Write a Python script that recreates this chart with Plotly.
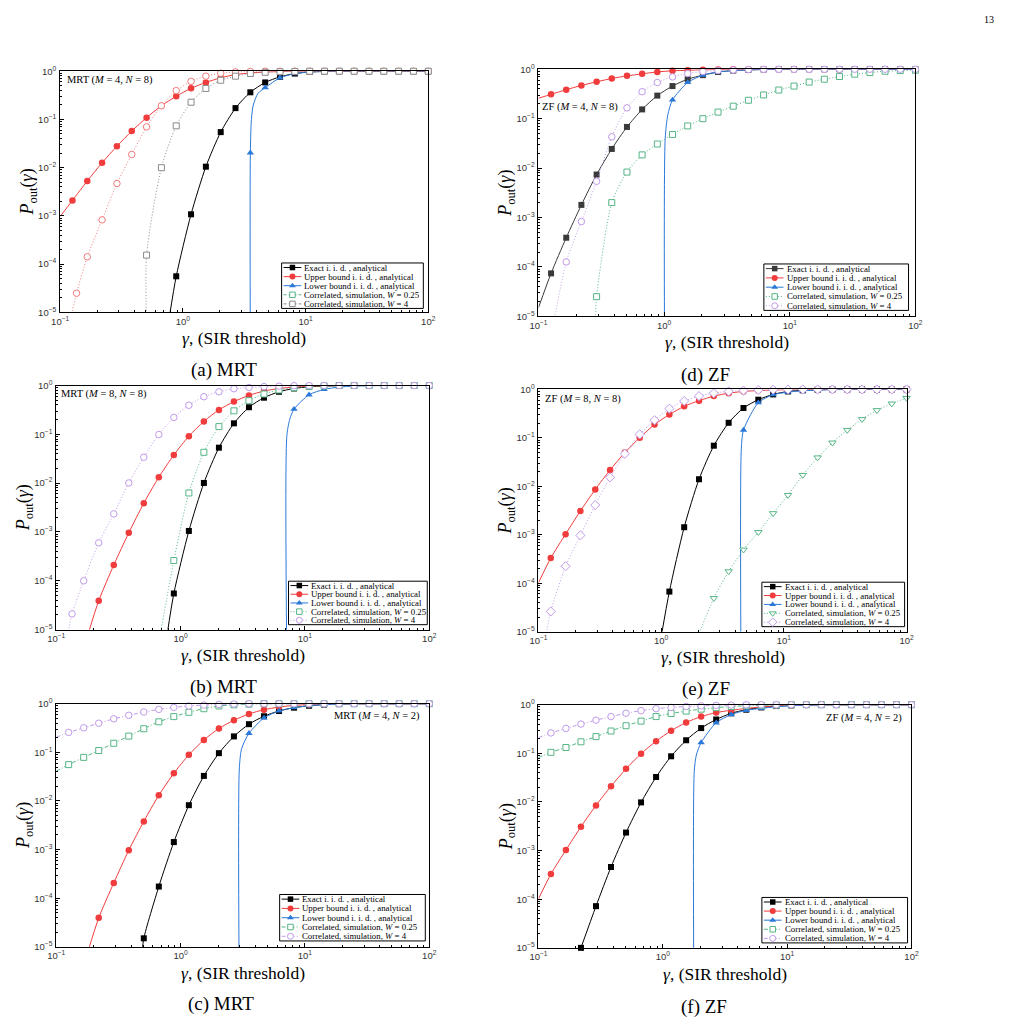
import plotly.graph_objects as go

# ---------------- data ----------------
GAMMA = [0.1259, 0.1663, 0.2196, 0.2901, 0.3831, 0.5060, 0.6683, 0.8827, 1.166, 1.540,
         2.034, 2.686, 3.548, 4.686, 6.190, 8.176, 10.80, 14.26, 18.84, 24.88,
         32.87, 43.41, 57.34, 75.74, 100.0]
N = None

# (a) MRT (M=4, N=8)
A_EXACT = [N]*7 + [5.6e-5, 1.08e-3, 0.0105, 0.0547, 0.172, 0.366, 0.586, 0.766, 0.895, 0.965, 0.99] + [1.0]*7
A_EXACT_LX, A_EXACT_LY = [0.776], [8e-6]
A_UPPER = [2.1e-3, 5.3e-3, 0.0127, 0.0278, 0.0574, 0.109, 0.192, 0.303, 0.442, 0.586, 0.731, 0.855, 0.92, 0.965, 0.985] + [1.0]*10
A_UPPER_LX, A_UPPER_LY = [0.1], [9.7e-4]
A_LOWER = [N]*12 + [0.0203, 0.456, 0.73, 0.895, 0.965, 0.99] + [1.0]*7
A_LOWER_LX, A_LOWER_LY = [3.54, 3.62, 3.75, 4.1], [8e-6, 0.1, 0.2, 0.35]
A_SIM1 = [N] + [1.42e-4, 8.3e-4, 4.7e-3, 0.0188, 0.0703, 0.192, 0.396, 0.615, 0.79, 0.91, 0.97, 0.99] + [1.0]*12
A_SIM1_MX, A_SIM1_MY = [0.136], [2.5e-5]
A_SIM1_LX, A_SIM1_LY = [0.1225], [8e-6]
A_SIM2 = [N]*5 + [1.54e-4, 0.01, 0.0737, 0.228, 0.44, 0.65, 0.79, 0.9, 0.95, 0.975, 0.99] + [1.0]*9
A_SIM2_LX, A_SIM2_LY = [0.505], [8e-6]

# (b) MRT (M=8, N=8)
B_EXACT = [N]*7 + [5.5e-5, 1.05e-3, 0.0101, 0.0533, 0.168, 0.359, 0.563, 0.745, 0.87, 0.94, 0.975, 0.99] + [1.0]*6
B_EXACT_LX, B_EXACT_LY = [0.78], [8e-6]
B_UPPER = [N]*2 + [3.9e-5, 2.1e-4, 9.6e-4, 3.9e-3, 0.0132, 0.0379, 0.0917, 0.184, 0.317, 0.468, 0.628, 0.77, 0.87, 0.93, 0.97, 0.99] + [1.0]*7
B_UPPER_LX, B_UPPER_LY = [0.18], [8e-6]
B_LOWER = [N]*15 + [0.327, 0.647, 0.83, 0.93, 0.97, 0.99] + [1.0]*4
B_LOWER_LX, B_LOWER_LY = [7.12, 7.16, 7.56], [8e-6, 0.095, 0.205]
B_SIM1 = [N]*7 + [2.6e-4, 6.3e-3, 0.0429, 0.144, 0.303, 0.49, 0.67, 0.81, 0.9, 0.95, 0.98] + [1.0]*7
B_SIM1_LX, B_SIM1_LY = [0.687], [8e-6]
B_SIM2 = [N] + [1.0e-4, 6e-4, 2.35e-3, 0.0101, 0.034, 0.099, 0.222, 0.394, 0.59, 0.745, 0.86, 0.91, 0.95, 0.97, 0.99] + [1.0]*9
B_SIM2_MX, B_SIM2_MY = [0.134], [2.1e-5]
B_SIM2_LX, B_SIM2_LY = [0.1237], [8e-6]

# (c) MRT (M=4, N=2)
C_EXACT = [N]*5 + [1.5e-5, 1.74e-4, 1.43e-3, 8.2e-3, 0.0328, 0.0964, 0.213, 0.38, 0.553, 0.71, 0.83, 0.91, 0.96, 0.985] + [1.0]*6
C_EXACT_LX, C_EXACT_LY = [0.491], [8e-6]
C_UPPER = [N]*2 + [3.95e-5, 2.06e-4, 9.7e-4, 3.8e-3, 0.0131, 0.0372, 0.089, 0.18, 0.31, 0.458, 0.617, 0.755, 0.855, 0.925, 0.965, 0.985] + [1.0]*7
C_UPPER_LX, C_UPPER_LY = [0.18], [8e-6]
C_LOWER = [N]*12 + [0.246, 0.511, 0.71, 0.83, 0.91, 0.96, 0.985] + [1.0]*6
C_LOWER_LX, C_LOWER_LY = [2.95, 2.97, 3.1], [8e-6, 0.048, 0.12]
C_SIM1 = [0.056, 0.079, 0.109, 0.154, 0.216, 0.306, 0.425, 0.544, 0.667, 0.79, 0.9, 0.95, 0.98] + [1.0]*12
C_SIM1_LX, C_SIM1_LY = [0.1], [0.041]
C_SIM2 = [0.257, 0.32, 0.398, 0.489, 0.578, 0.677, 0.766, 0.84, 0.9, 0.94, 0.97, 0.985] + [1.0]*13
C_SIM2_LX, C_SIM2_LY = [0.1], [0.204]

# (d) ZF (M=4, N=8)
D_EXACT = [7.4e-5, 3.9e-4, 1.8e-3, 7.4e-3, 0.0244, 0.068, 0.154, 0.293, 0.457, 0.63, 0.76, 0.88, 0.94, 0.97, 0.99] + [1.0]*10
D_EXACT_LX, D_EXACT_LY = [0.1], [1.5e-5]
D_UPPER = [0.311, 0.386, 0.471, 0.558, 0.65, 0.735, 0.807, 0.885, 0.93, 0.955, 0.975, 0.99] + [1.0]*13
D_UPPER_LX, D_UPPER_LY = [0.1], [0.259]
D_LOWER = [N]*8 + [0.24, 0.54, 0.76, 0.88, 0.94, 0.97, 0.99] + [1.0]*10
D_LOWER_LX, D_LOWER_LY = [1.006, 1.02, 1.07], [8e-6, 0.04, 0.12]
D_SIM1 = [N]*3 + [2.5e-5, 2e-3, 8.3e-3, 0.0185, 0.0307, 0.0479, 0.0713, 0.1, 0.136, 0.179, 0.236, 0.302, 0.38, 0.457, 0.55, 0.63, 0.713, 0.794, 0.858, 0.912, 0.94, 0.955]
D_SIM1_LX, D_SIM1_LY = [0.283], [8e-6]
D_SIM2 = [N] + [1.26e-4, 8.3e-4, 5.4e-3, 0.043, 0.166, 0.352, 0.54, 0.7, 0.82, 0.9, 0.94, 0.97, 0.985] + [1.0]*11
D_SIM2_LX, D_SIM2_LY = [0.133], [8e-6]

# (e) ZF (M=8, N=8)
E_EXACT = [N]*8 + [6.7e-5, 1.43e-3, 0.014, 0.069, 0.205, 0.415, 0.615, 0.79, 0.91, 0.96, 0.985] + [1.0]*6
E_EXACT_LX, E_EXACT_LY = [1.002], [8e-6]
E_UPPER = [3.3e-4, 1.03e-3, 3.1e-3, 8.6e-3, 0.0217, 0.0498, 0.101, 0.189, 0.303, 0.449, 0.586, 0.73, 0.84, 0.91, 0.95, 0.975, 0.99] + [1.0]*8
E_UPPER_LX, E_UPPER_LY = [0.1], [1.02e-4]
E_LOWER = [N]*13 + [0.145, 0.533, 0.78, 0.88, 0.94, 0.97, 0.99] + [1.0]*5
E_LOWER_LX, E_LOWER_LY = [4.46, 4.5], [8e-6, 0.06]
E_SIM1 = [N]*11 + [4.9e-5, 1.75e-4, 4.9e-4, 1.13e-3, 2.77e-3, 6.6e-3, 0.0171, 0.0393, 0.0797, 0.145, 0.243, 0.372, 0.509, 0.665]
E_SIM1_LX, E_SIM1_LY = [1.995], [8e-6]
E_SIM2 = [2.6e-5, 2.24e-4, 9.7e-4, 4.1e-3, 0.0153, 0.0468, 0.118, 0.232, 0.402, 0.577, 0.73, 0.84, 0.91, 0.95, 0.975, 0.99] + [1.0]*9
E_SIM2_LX, E_SIM2_LY = [0.1146], [8e-6]

# (f) ZF (M=4, N=2)
F_EXACT = [N]*2 + [1.0e-5, 7.2e-5, 4.6e-4, 2.35e-3, 9.8e-3, 0.0326, 0.087, 0.186, 0.331, 0.497, 0.667, 0.79, 0.88, 0.94, 0.97, 0.99] + [1.0]*7
F_UPPER = [3.3e-4, 1.03e-3, 3.1e-3, 8.5e-3, 0.0211, 0.048, 0.0986, 0.178, 0.292, 0.432, 0.571, 0.69, 0.77, 0.84, 0.9, 0.95, 0.975, 0.99] + [1.0]*7
F_UPPER_LX, F_UPPER_LY = [0.1], [1.02e-4]
F_LOWER = [N]*10 + [0.167, 0.425, 0.627, 0.77, 0.84, 0.91, 0.95, 0.98, 0.99] + [1.0]*6
F_LOWER_LX, F_LOWER_LY = [1.77, 1.79, 1.86], [8e-6, 0.0425, 0.092]
F_SIM1 = [0.105, 0.132, 0.173, 0.221, 0.288, 0.37, 0.46, 0.571, 0.66, 0.74, 0.81, 0.87, 0.92, 0.95, 0.97, 0.985] + [1.0]*9
F_SIM1_LX, F_SIM1_LY = [0.1], [0.082]
F_SIM2 = [0.263, 0.326, 0.4, 0.482, 0.571, 0.67, 0.755, 0.83, 0.88, 0.92, 0.95, 0.97, 0.985] + [1.0]*12
F_SIM2_LX, F_SIM2_LY = [0.1], [0.211]

X_TICKS = [0.1, 1, 10, 100]
X_TICKTEXT = ["10<sup>−1</sup>", "10<sup>0</sup>", "10<sup>1</sup>", "10<sup>2</sup>"]
Y_TICKS = [1e-5, 1e-4, 1e-3, 1e-2, 1e-1, 1]
Y_TICKTEXT = ["10<sup>−5</sup>", "10<sup>−4</sup>", "10<sup>−3</sup>", "10<sup>−2</sup>", "10<sup>−1</sup>", "10<sup>0</sup>"]

LEGEND_LABELS = ["Exact i. i. d. , analytical", "Upper bound i. i. d. , analytical",
                 "Lower bound i. i. d. , analytical", "Correlated, simulation, <i>W</i> = 0.25",
                 "Correlated, simulation, <i>W</i> = 4"]
PANEL_NOTES = {"a": "MRT (<i>M</i> = 4, <i>N</i> = 8)", "b": "MRT (<i>M</i> = 8, <i>N</i> = 8)",
               "c": "MRT (<i>M</i> = 4, <i>N</i> = 2)", "d": "ZF (<i>M</i> = 4, <i>N</i> = 8)",
               "e": "ZF (<i>M</i> = 8, <i>N</i> = 8)", "f": "ZF (<i>M</i> = 4, <i>N</i> = 2)"}
CAPTIONS = {"a": "(a) MRT", "b": "(b) MRT", "c": "(c) MRT", "d": "(d) ZF", "e": "(e) ZF", "f": "(f) ZF"}

# ---------------- styling / layout ----------------
W, H = 1011, 1025
SERIF = "Liberation Serif"
BLACK, DGRAY = "#000000", "#3a3a3a"
RED, LRED = "#f03c3c", "#f07a7a"
BLUE = "#2a78d8"
GREEN = "#55b585"
PURPLE = "#c09aea"
GRAY = "#8a8a8a"
DOT = "1px,2px"
DASH = "3px,2px"
DASHDOT = "4px,2px,1px,2px"

# plot area in pixels: left, right, top, bottom
PANEL_PX = {"a": (52, 426, 65, 309), "b": (48, 427, 383, 630), "c": (48, 427, 705, 951),
            "d": (538, 921, 63, 313), "e": (538, 912, 387, 632), "f": (538, 917, 706, 952)}
LEGEND_PX = {"a": (277, 421, 259, 305), "b": (284, 425, 581, 625), "c": (275, 423, 898, 945),
             "d": (767, 914, 260, 307), "e": (765, 910, 582, 627), "f": (765, 913, 901, 947)}
NOTE_POS = {"a": (57, 74, "left"), "b": (51, 392, "left"), "c": (420, 717, "right"),
            "d": (540, 101, "left"), "e": (543, 397, "left"), "f": (909, 719, "right")}
CAPTION_POS = {"a": (218, 367), "b": (218, 688), "c": (215, 1009),
               "d": (708, 372), "e": (708, 690), "f": (706, 1012)}

def sty(color, dash, symbol, filled, size):
    return dict(color=color, dash=dash, symbol=symbol, filled=filled, size=size)

EXACT_S = sty(BLACK, "solid", "square", True, 6)
UPPER_S = sty(RED, "solid", "circle", True, 6.5)
LOWER_S = sty(BLUE, "solid", "triangle-up", True, 6.5)

SERIES = {
    "a": [(A_EXACT, A_EXACT_LX, A_EXACT_LY, [], [], EXACT_S),
          (A_UPPER, A_UPPER_LX, A_UPPER_LY, [], [], UPPER_S),
          (A_LOWER, A_LOWER_LX, A_LOWER_LY, [], [], LOWER_S),
          (A_SIM1, A_SIM1_LX, A_SIM1_LY, A_SIM1_MX, A_SIM1_MY, sty(LRED, DOT, "circle", False, 6.5)),
          (A_SIM2, A_SIM2_LX, A_SIM2_LY, [], [], sty(GRAY, DOT, "square", False, 6))],
    "b": [(B_EXACT, B_EXACT_LX, B_EXACT_LY, [], [], EXACT_S),
          (B_UPPER, B_UPPER_LX, B_UPPER_LY, [], [], UPPER_S),
          (B_LOWER, B_LOWER_LX, B_LOWER_LY, [], [], LOWER_S),
          (B_SIM1, B_SIM1_LX, B_SIM1_LY, [], [], sty(GREEN, DOT, "square", False, 6)),
          (B_SIM2, B_SIM2_LX, B_SIM2_LY, B_SIM2_MX, B_SIM2_MY, sty(PURPLE, DOT, "circle", False, 6.5))],
    "c": [(C_EXACT, C_EXACT_LX, C_EXACT_LY, [], [], EXACT_S),
          (C_UPPER, C_UPPER_LX, C_UPPER_LY, [], [], UPPER_S),
          (C_LOWER, C_LOWER_LX, C_LOWER_LY, [], [], LOWER_S),
          (C_SIM1, C_SIM1_LX, C_SIM1_LY, [], [], sty(GREEN, DASHDOT, "square", False, 6)),
          (C_SIM2, C_SIM2_LX, C_SIM2_LY, [], [], sty(PURPLE, DASHDOT, "circle", False, 6.5))],
    "d": [(D_EXACT, D_EXACT_LX, D_EXACT_LY, [], [], sty(DGRAY, "solid", "square", True, 6)),
          (D_UPPER, D_UPPER_LX, D_UPPER_LY, [], [], UPPER_S),
          (D_LOWER, D_LOWER_LX, D_LOWER_LY, [], [], LOWER_S),
          (D_SIM1, D_SIM1_LX, D_SIM1_LY, [], [], sty(GREEN, DOT, "square", False, 6)),
          (D_SIM2, D_SIM2_LX, D_SIM2_LY, [], [], sty(PURPLE, DOT, "circle", False, 6.5))],
    "e": [(E_EXACT, E_EXACT_LX, E_EXACT_LY, [], [], EXACT_S),
          (E_UPPER, E_UPPER_LX, E_UPPER_LY, [], [], UPPER_S),
          (E_LOWER, E_LOWER_LX, E_LOWER_LY, [], [], LOWER_S),
          (E_SIM1, E_SIM1_LX, E_SIM1_LY, [], [], sty(GREEN, DOT, "triangle-down", False, 6.5)),
          (E_SIM2, E_SIM2_LX, E_SIM2_LY, [], [], sty(PURPLE, DOT, "diamond", False, 7))],
    "f": [(F_EXACT, [], [], [], [], EXACT_S),
          (F_UPPER, F_UPPER_LX, F_UPPER_LY, [], [], UPPER_S),
          (F_LOWER, F_LOWER_LX, F_LOWER_LY, [], [], LOWER_S),
          (F_SIM1, F_SIM1_LX, F_SIM1_LY, [], [], sty(GREEN, DASHDOT, "square", False, 6)),
          (F_SIM2, F_SIM2_LX, F_SIM2_LY, [], [], sty(PURPLE, DASHDOT, "circle", False, 6.5))],
}

LEGEND_STYLES = {
    "a": [EXACT_S, UPPER_S, LOWER_S, sty(GREEN, DASH, "square", False, 6), sty(GRAY, DASH, "square", False, 6)],
    "b": [EXACT_S, UPPER_S, LOWER_S, sty(GREEN, DOT, "square", False, 6), sty(PURPLE, DOT, "circle", False, 6.5)],
    "c": [EXACT_S, UPPER_S, LOWER_S, sty(GREEN, DASHDOT, "square", False, 6), sty(PURPLE, DASHDOT, "circle", False, 6.5)],
    "d": [sty(DGRAY, "solid", "square", True, 6), UPPER_S, LOWER_S, sty(GREEN, DOT, "square", False, 6), sty(PURPLE, DOT, "circle", False, 6.5)],
    "e": [EXACT_S, UPPER_S, LOWER_S, sty(GREEN, DOT, "triangle-down", False, 6.5), sty(PURPLE, DOT, "diamond", False, 7)],
    "f": [EXACT_S, UPPER_S, LOWER_S, sty(GREEN, DASHDOT, "square", False, 6), sty(PURPLE, DASHDOT, "circle", False, 6.5)],
}

def marker_dict(s):
    if s["filled"]:
        return dict(symbol=s["symbol"], size=s["size"], color=s["color"], line=dict(width=0))
    return dict(symbol=s["symbol"], size=s["size"], color="white", line=dict(color=s["color"], width=1))

fig = go.Figure()
minor_x = [m * 10 ** e for e in range(-1, 2) for m in range(2, 10)]
minor_y = [m * 10 ** e for e in range(-5, 0) for m in range(2, 10)]

order = ["a", "b", "c", "d", "e", "f"]
layout_axes = {}
annotations = []
shapes = []
for i, key in enumerate(order, start=1):
    l, r, t, b = PANEL_PX[key]
    xa, ya = ("x" if i == 1 else f"x{i}"), ("y" if i == 1 else f"y{i}")
    xname, yname = ("xaxis" if i == 1 else f"xaxis{i}"), ("yaxis" if i == 1 else f"yaxis{i}")
    common = dict(type="log", showline=True, linecolor="black", linewidth=1, mirror=True,
                  ticks="inside", ticklen=4, tickwidth=0.8, tickcolor="black",
                  tickfont=dict(family="Liberation Sans", size=9.5, color="#333333"),
                  showgrid=False, zeroline=False, tickmode="array")
    layout_axes[xname] = dict(common, domain=[l / W, r / W], range=[-1, 2], anchor=ya,
                              tickvals=X_TICKS, ticktext=X_TICKTEXT, ticklabelstandoff=0,
                              minor=dict(ticks="inside", ticklen=2, tickcolor="black", tickwidth=0.6,
                                         tickmode="array", tickvals=minor_x))
    layout_axes[yname] = dict(common, domain=[1 - b / H, 1 - t / H], range=[-5, 0], anchor=xa,
                              tickvals=Y_TICKS, ticktext=Y_TICKTEXT, ticklabelstandoff=1,
                              minor=dict(ticks="inside", ticklen=2, tickcolor="black", tickwidth=0.6,
                                         tickmode="array", tickvals=minor_y))
    for (ys, lx, ly, mx, my, s) in SERIES[key]:
        pts = [(g, v) for g, v in zip(GAMMA, ys) if v is not None]
        extra_marks = list(zip(mx, my))
        line_pts = sorted(pts + extra_marks + list(zip(lx, ly)))
        mark_pts = sorted([p for p in pts + extra_marks if p[1] >= 1e-5])
        fig.add_trace(go.Scatter(x=[p[0] for p in line_pts], y=[p[1] for p in line_pts], mode="lines",
                                 line=dict(color=s["color"], width=1, dash=s["dash"], shape="spline", smoothing=0.7),
                                 xaxis=xa, yaxis=ya, showlegend=False, hoverinfo="skip"))
        fig.add_trace(go.Scatter(x=[p[0] for p in mark_pts], y=[p[1] for p in mark_pts], mode="markers",
                                 marker=marker_dict(s), cliponaxis=False,
                                 xaxis=xa, yaxis=ya, showlegend=False, hoverinfo="skip"))

    # axis titles
    annotations.append(dict(x=(l + r) / 2, y=b + 26, xref="x7", yref="y7", showarrow=False,
                            text="<i>γ</i>, (SIR threshold)", font=dict(family=SERIF, size=17.5, color="black"),
                            xanchor="center", yanchor="middle"))
    annotations.append(dict(x=l - 32, y=(t + b) / 2, xref="x7", yref="y7", showarrow=False, textangle=-90,
                            text="<i>P</i><sub>out</sub>(<i>γ</i>)", font=dict(family=SERIF, size=18, color="black"),
                            xanchor="center", yanchor="middle"))
    # panel note
    nx, ny, na = NOTE_POS[key]
    annotations.append(dict(x=nx, y=ny, xref="x7", yref="y7", showarrow=False, text=PANEL_NOTES[key],
                            font=dict(family=SERIF, size=10.5, color="black"), xanchor=na, yanchor="middle"))
    # caption
    cx, cy = CAPTION_POS[key]
    annotations.append(dict(x=cx, y=cy, xref="x7", yref="y7", showarrow=False, text=CAPTIONS[key],
                            font=dict(family=SERIF, size=19, color="black"), xanchor="center", yanchor="middle"))
    # legend box
    L, R, T, B = LEGEND_PX[key]
    shapes.append(dict(type="rect", xref="x7", yref="y7", x0=L, x1=R, y0=T, y1=B,
                       line=dict(color="black", width=1), fillcolor="white", layer="below"))
    rh = (B - T) / 5
    for j, (lab, s) in enumerate(zip(LEGEND_LABELS, LEGEND_STYLES[key])):
        yc = T + (j + 0.5) * rh
        fig.add_trace(go.Scatter(x=[L + 2, L + 20], y=[yc, yc], mode="lines",
                                 line=dict(color=s["color"], width=1, dash=s["dash"]),
                                 xaxis="x7", yaxis="y7", showlegend=False, hoverinfo="skip"))
        ms = dict(marker_dict(s))
        ms["size"] = s["size"] - 0.5
        fig.add_trace(go.Scatter(x=[L + 11], y=[yc], mode="markers", marker=ms,
                                 xaxis="x7", yaxis="y7", showlegend=False, hoverinfo="skip"))
        annotations.append(dict(x=L + 21, y=yc, xref="x7", yref="y7", showarrow=False, text=lab,
                                font=dict(family=SERIF, size=8.8, color="black"), xanchor="left", yanchor="middle"))

annotations.append(dict(x=996, y=13, xref="x7", yref="y7", showarrow=False, text="13",
                        font=dict(family=SERIF, size=10, color="black"), xanchor="center", yanchor="middle"))

layout_axes["xaxis7"] = dict(domain=[0, 1], range=[0, W], anchor="y7", visible=False, fixedrange=True)
layout_axes["yaxis7"] = dict(domain=[0, 1], range=[H, 0], anchor="x7", visible=False, fixedrange=True)

fig.update_layout(width=W, height=H, margin=dict(l=0, r=0, t=0, b=0),
                  paper_bgcolor="white", plot_bgcolor="rgba(0,0,0,0)",
                  showlegend=False, annotations=annotations, shapes=shapes, **layout_axes)
fig.write_html("out.html")
